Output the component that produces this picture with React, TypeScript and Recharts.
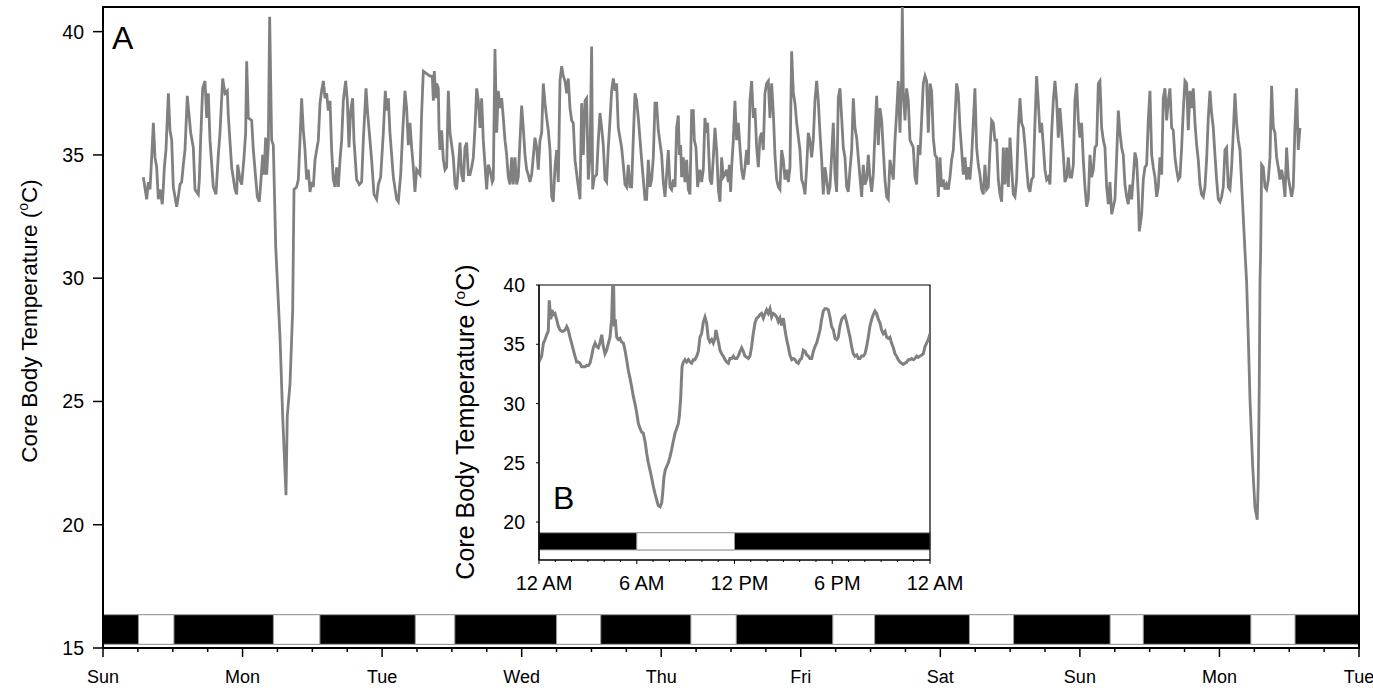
import { Line, LineChart, ReferenceArea, XAxis, YAxis } from "recharts";

const FONT = '"Liberation Sans", Arial, Helvetica, sans-serif';
const LINE_GREY = "#808080";

// panel A: hours since Sunday 00:00, core body temperature (°C)
const mainHours = [
  6.94, 7.51, 7.8, 8.08, 8.37, 8.66, 8.94, 9.23, 9.52, 9.8, 10.2, 10.38, 10.55, 10.83, 11.24, 11.52, 11.81,
  12.09, 12.38, 12.67, 12.95, 13.24, 13.53, 13.81, 14.1, 14.5, 14.73, 15.08, 15.53, 15.82, 16.39, 16.57, 16.79,
  17.14, 17.54, 17.83, 18.11, 18.4, 18.97, 19.43, 19.83, 20.12, 20.58, 20.98, 21.38, 21.55, 22.13, 22.7, 22.99,
  23.16, 23.56, 23.85, 24.25, 24.53, 24.71, 24.99, 25.57, 25.85, 26.54, 26.88, 27.17, 27.46, 27.69, 27.97, 28.14,
  28.43, 28.66, 29.0, 29.29, 29.7, 30.44, 30.9, 31.47, 31.69, 32.16, 32.62, 32.73, 32.85, 33.3, 33.59, 33.88,
  34.16, 34.45, 34.74, 35.02, 35.31, 35.6, 35.88, 36.17, 36.46, 37.03, 37.32, 37.6, 37.89, 38.18, 38.46, 38.75,
  39.04, 39.32, 39.61, 39.9, 40.18, 40.47, 40.76, 41.04, 41.33, 41.73, 42.02, 42.3, 42.59, 42.93, 43.16, 43.62,
  44.08, 44.48, 44.77, 45.23, 45.51, 45.8, 46.2, 46.6, 47.06, 47.35, 47.75, 48.21, 48.55, 48.78, 49.07, 49.35,
  49.93, 50.5, 50.79, 51.19, 51.53, 51.93, 52.22, 52.51, 52.79, 53.08, 53.37, 53.65, 53.94, 54.51, 54.8, 55.09,
  56.23, 56.63, 56.81, 56.98, 57.21, 57.38, 57.67, 57.78, 57.95, 58.24, 58.53, 58.81, 59.1, 59.39, 59.67, 59.96,
  60.25, 60.53, 60.82, 61.11, 61.39, 61.68, 61.97, 62.25, 62.54, 62.83, 63.11, 63.4, 63.69, 63.97, 64.26, 64.55,
  64.83, 65.12, 65.4, 65.69, 65.98, 66.26, 66.55, 66.95, 67.12, 67.41, 67.7, 67.98, 68.27, 68.56, 68.84, 69.13,
  69.42, 69.7, 69.99, 70.28, 70.56, 70.85, 71.14, 71.42, 71.71, 72.0, 72.28, 72.57, 72.86, 73.14, 73.43, 73.72,
  74.29, 74.58, 74.86, 75.15, 75.44, 75.72, 76.01, 76.3, 76.58, 76.87, 77.16, 77.44, 77.73, 78.02, 78.3, 78.59,
  78.88, 79.16, 79.45, 79.74, 80.02, 80.31, 80.6, 80.88, 81.17, 81.74, 82.03, 82.31, 82.6, 82.89, 83.17, 83.46,
  83.75, 84.03, 84.21, 84.49, 84.89, 85.18, 85.47, 85.75, 86.04, 86.33, 86.61, 86.9, 87.19, 87.47, 87.76, 88.05,
  88.33, 88.62, 89.19, 89.48, 89.77, 90.05, 90.34, 90.63, 90.91, 91.2, 91.49, 91.77, 92.06, 92.63, 92.92, 93.21,
  93.49, 93.78, 94.07, 94.35, 94.64, 94.93, 95.21, 95.5, 96.07, 96.36, 96.65, 96.93, 97.22, 97.51, 97.79, 98.08,
  98.37, 98.65, 98.94, 99.11, 99.34, 99.51, 99.8, 100.08, 100.37, 100.66, 100.94, 101.23, 101.52, 101.69, 101.98,
  102.26, 102.66, 102.95, 103.24, 103.52, 103.81, 103.98, 104.21, 104.38, 104.67, 104.96, 105.24, 105.53, 105.82,
  106.1, 106.39, 106.68, 106.96, 107.25, 107.54, 107.71, 107.94, 108.11, 108.4, 108.68, 108.97, 109.26, 109.54,
  109.83, 110.12, 110.4, 110.69, 110.98, 111.26, 111.55, 111.84, 112.12, 112.41, 112.7, 112.98, 113.27, 113.56,
  113.84, 114.13, 114.42, 114.7, 114.99, 115.28, 115.56, 115.85, 116.14, 116.42, 116.71, 117.0, 117.28, 117.57,
  117.86, 118.14, 118.43, 118.72, 119.0, 119.29, 119.86, 120.15, 120.43, 120.72, 121.01, 121.29, 121.58, 121.87,
  122.15, 122.44, 122.73, 123.01, 123.3, 123.59, 123.87, 124.16, 124.45, 124.73, 125.02, 125.31, 125.59, 125.88,
  126.17, 126.45, 126.74, 127.03, 127.31, 127.6, 127.89, 128.17, 128.46, 128.75, 129.03, 129.32, 129.61, 129.89,
  130.18, 130.47, 130.75, 131.04, 131.33, 131.61, 131.9, 132.19, 132.47, 132.76, 133.05, 133.33, 133.62, 133.91,
  134.19, 134.48, 134.76, 135.05, 135.34, 135.62, 135.91, 136.2, 136.48, 136.77, 137.06, 137.34, 137.46, 137.63,
  137.92, 138.2, 138.49, 138.78, 139.35, 139.64, 139.92, 140.21, 140.5, 140.78, 141.07, 141.36, 141.64, 141.93,
  142.22, 142.5, 142.79, 143.08, 143.36, 143.65, 143.94, 144.22, 144.51, 144.8, 145.08, 145.37, 145.66, 145.94,
  146.23, 146.52, 146.8, 147.09, 147.38, 147.66, 147.95, 148.24, 148.52, 148.81, 149.09, 149.38, 149.67, 149.95,
  150.24, 150.53, 150.81, 151.1, 151.39, 151.67, 151.96, 152.25, 152.53, 152.82, 153.11, 153.39, 153.68, 153.97,
  154.26, 154.54, 154.83, 155.12, 155.4, 155.69, 155.98, 156.26, 156.55, 156.84, 157.12, 157.41, 157.69, 157.98,
  158.27, 158.55, 158.84, 159.13, 159.41, 159.7, 159.99, 160.27, 160.56, 160.85, 161.13, 161.42, 161.71, 161.99,
  162.28, 162.57, 162.85, 163.14, 163.43, 163.71, 164.0, 164.29, 164.57, 164.86, 165.15, 165.43, 165.72, 166.01,
  166.29, 166.58, 166.87, 167.15, 167.44, 167.73, 168.01, 168.3, 168.59, 168.87, 169.16, 169.45, 169.73, 170.02,
  170.31, 170.59, 170.88, 171.17, 171.45, 171.74, 172.03, 172.31, 172.6, 172.89, 173.17, 173.46, 173.75, 174.03,
  174.32, 174.61, 174.89, 175.18, 175.46, 175.75, 176.04, 176.32, 176.61, 176.9, 177.18, 177.47, 177.76, 178.04,
  178.22, 178.45, 178.62, 178.9, 179.19, 179.48, 179.76, 180.05, 180.34, 180.62, 180.91, 181.2, 181.48, 181.77,
  182.06, 182.34, 182.63, 182.92, 183.2, 183.49, 183.78, 184.06, 184.35, 184.64, 184.92, 185.21, 185.5, 185.78,
  186.07, 186.36, 186.64, 186.93, 187.22, 187.5, 187.79, 188.08, 188.36, 188.65, 188.93, 189.22, 189.51, 189.79,
  190.08, 190.37, 190.65, 190.94, 191.23, 191.51, 191.8, 192.09, 192.37, 192.66, 192.95, 193.23, 193.52, 193.81,
  194.09, 194.38, 194.67, 194.95, 195.24, 195.53, 196.39, 196.68, 196.96, 197.25, 197.71, 198.11, 198.5, 198.67,
  198.85, 198.97, 199.09, 199.25, 199.54, 199.83, 200.11, 200.4, 200.69, 200.97, 201.26, 201.55, 201.83, 202.12,
  202.41, 202.69, 202.98, 203.27, 203.55, 203.84, 204.13, 204.41, 204.7, 204.98, 205.27, 205.56, 205.84,
];

const mainTemps = [
  34.1, 33.2, 33.9, 33.6, 34.9, 36.3, 34.9, 34.5, 33.2, 33.6, 33.0, 33.7, 34.5, 35.2, 37.5, 36.0, 35.6,
  33.7, 33.3, 32.9, 33.3, 33.8, 33.9, 34.6, 35.2, 37.4, 36.8, 35.9, 35.3, 33.6, 33.4, 34.0, 35.6,
  37.7, 38.0, 36.5, 37.5, 35.6, 33.7, 33.4, 35.0, 35.9, 38.1, 37.5, 37.6, 36.6, 34.5, 33.6, 33.4,
  34.6, 34.0, 33.8, 34.9, 35.9, 38.8, 36.5, 36.4, 35.2, 33.3, 33.1, 34.0, 35.0, 34.2, 35.7, 34.2,
  35.4, 40.6, 35.6, 35.4, 31.3, 27.6, 24.4, 21.2, 24.4, 25.7, 28.7, 31.1, 33.6, 33.7, 34.0, 35.6,
  37.3, 36.0, 35.2, 34.0, 34.4, 33.5, 33.9, 33.7, 34.8, 35.6, 37.1, 37.6, 38.0, 37.3, 37.5, 36.8,
  37.2, 35.2, 34.0, 33.7, 34.5, 33.7, 34.8, 35.6, 37.2, 38.0, 37.2, 35.3, 36.8, 37.3, 35.6, 34.0,
  33.8, 33.9, 35.6, 37.7, 36.7, 35.9, 34.8, 33.4, 33.2, 33.8, 34.1, 35.9, 37.6, 36.8, 37.3, 35.9,
  34.1, 33.2, 33.1, 34.2, 35.9, 37.6, 36.9, 35.4, 36.3, 35.3, 34.5, 33.5, 34.4, 34.2, 36.7, 38.4,
  38.2, 38.2, 37.2, 38.4, 37.3, 37.9, 37.7, 36.1, 35.2, 36.0, 34.8, 34.4, 34.5, 37.6, 35.9, 35.4,
  34.9, 33.8, 33.6, 34.5, 35.5, 34.2, 33.9, 35.3, 35.5, 34.2, 34.2, 34.5, 34.9, 36.1, 37.7, 37.2,
  36.1, 37.3, 35.6, 34.6, 33.6, 34.6, 34.4, 33.9, 34.0, 39.3, 35.9, 37.6, 36.9, 37.3, 36.5, 35.6,
  35.0, 34.1, 33.8, 34.9, 33.8, 34.9, 33.8, 34.1, 35.6, 37.0, 36.1, 35.0, 34.4, 34.2, 33.9, 34.2,
  35.7, 35.3, 34.4, 35.6, 35.9, 37.9, 37.1, 36.5, 36.0, 35.2, 33.3, 33.1, 34.5, 35.2, 33.9, 38.0,
  38.6, 38.2, 38.0, 37.5, 38.1, 36.9, 36.4, 36.3, 34.8, 33.7, 33.2, 37.1, 35.0, 37.2, 37.3, 34.0,
  34.9, 39.4, 33.6, 34.1, 34.2, 35.6, 36.7, 36.1, 35.4, 34.0, 33.9, 35.3, 36.4, 37.6, 38.1, 37.6,
  37.9, 36.1, 35.3, 34.6, 33.8, 33.7, 34.6, 33.7, 33.7, 35.7, 37.5, 37.2, 36.5, 34.8, 34.0, 33.2,
  33.2, 34.8, 33.7, 34.0, 34.9, 37.1, 37.1, 36.0, 35.0, 33.9, 33.3, 34.2, 35.2, 33.7, 33.6, 34.0,
  33.7, 36.1, 36.6, 35.0, 35.4, 34.1, 34.9, 33.9, 34.8, 33.6, 33.4, 36.8, 36.8, 35.6, 35.3,
  33.7, 34.4, 33.9, 34.4, 36.5, 35.9, 36.3, 34.9, 34.0, 33.8, 34.9, 36.1, 35.2, 33.6,
  33.1, 34.9, 34.1, 34.2, 34.4, 33.9, 34.6, 33.5, 34.5, 35.6, 37.2, 35.6, 36.3, 35.3,
  34.4, 34.0, 34.5, 35.2, 34.6, 37.2, 38.0, 36.5, 36.9, 35.3, 34.5, 35.7, 35.9, 35.2,
  37.5, 37.9, 38.0, 36.5, 37.9, 36.7, 35.0, 34.0, 33.7, 33.6, 35.2, 34.8, 34.0, 34.4,
  33.9, 34.5, 39.2, 37.5, 37.1, 36.3, 35.2, 34.0, 33.8, 33.4, 34.5, 35.9, 35.6, 34.9,
  35.6, 37.2, 38.0, 37.2, 35.9, 34.8, 33.4, 34.5, 34.0, 33.4, 33.7, 35.0, 36.3, 34.2,
  33.5, 37.3, 37.7, 36.5, 35.3, 34.9, 33.7, 33.5, 34.4, 35.2, 37.3, 36.1, 35.7, 34.9,
  34.1, 33.3, 34.6, 33.8, 34.0, 35.0, 34.1, 33.5, 34.2, 35.9, 37.4, 35.4, 36.9, 36.4,
  35.2, 34.0, 33.3, 33.2, 34.8, 34.4, 34.0, 35.6, 36.7, 38.0, 35.9, 38.0, 41.0, 37.6,
  36.4, 37.7, 37.2, 35.6, 35.3, 34.1, 33.8, 35.4, 35.0, 36.4, 37.9, 38.2, 38.0, 35.9,
  37.9, 37.6, 35.7, 35.0, 34.9, 33.3, 34.9, 33.7, 34.0, 33.6, 33.8, 33.6, 34.1, 34.8,
  35.2, 36.5, 37.9, 37.5, 36.1, 35.2, 34.2, 34.9, 34.0, 34.5, 34.0, 34.9, 36.3, 37.7,
  35.3, 34.6, 34.2, 33.6, 33.4, 34.6, 33.6, 33.7, 35.2, 36.4, 36.3, 35.6, 35.6, 34.0,
  33.4, 33.1, 35.3, 33.8, 35.3, 33.7, 35.7, 34.5, 33.4, 33.3, 34.0, 36.1, 37.3, 36.3,
  36.1, 35.4, 34.5, 33.7, 33.5, 34.0, 34.1, 36.3, 38.2, 37.1, 35.9, 36.3, 35.4, 34.4,
  34.0, 34.1, 33.8, 35.9, 37.2, 38.0, 37.2, 35.7, 36.9, 36.0, 35.0, 33.9, 34.1, 34.9,
  34.1, 34.1, 34.6, 37.2, 37.9, 36.4, 35.7, 36.3, 34.8, 33.7, 32.9, 33.2, 35.0, 34.1,
  34.4, 35.3, 35.4, 37.9, 38.0, 36.1, 35.6, 35.3, 33.7, 33.0, 33.9, 32.6, 32.9, 33.2,
  34.9, 36.8, 35.9, 35.3, 35.0, 33.8, 33.3, 33.0, 33.8, 33.2, 34.1, 35.1, 34.8, 33.4,
  31.9, 32.3, 32.6, 34.0, 34.5, 34.6, 36.4, 37.6, 35.0, 34.5, 34.1, 33.3, 33.7, 34.9,
  34.2, 37.3, 37.7, 36.4, 37.2, 37.7, 36.1, 36.0, 34.9, 34.4, 34.0, 34.1, 35.3, 36.8,
  38.0, 37.9, 36.0, 37.6, 36.9, 37.7, 36.3, 35.4, 34.8, 33.8, 33.4, 33.3, 33.7, 34.8,
  36.5, 37.6, 36.7, 36.1, 35.0, 34.0, 33.2, 33.1, 33.3, 33.7, 35.2, 35.3, 33.7, 33.6,
  34.5, 35.9, 37.5, 36.3, 35.6, 35.2, 31.1, 29.8, 27.6, 25.1, 22.4, 20.7, 20.2, 21.7,
  25.7, 29.8, 31.1, 34.6, 34.5, 33.7, 33.6, 34.0, 34.9, 37.8, 36.1, 35.9, 34.9, 34.5,
  34.0, 34.4, 34.0, 33.3, 35.3, 34.1, 33.7, 33.3, 33.7, 36.1, 37.7, 35.2, 36.1,
];

// panel B: hours since Monday 00:00
const insetHours = [
  0.02, 0.06, 0.16, 0.27, 0.37, 0.47, 0.57, 0.63, 0.72, 0.8, 0.88, 0.98, 1.08, 1.19, 1.29, 1.39, 1.49, 1.6,
  1.7, 1.8, 1.9, 2.0, 2.11, 2.21, 2.31, 2.41, 2.52, 2.62, 2.72, 2.82, 2.93, 3.03, 3.13, 3.23, 3.33, 3.44,
  3.54, 3.64, 3.74, 3.85, 3.95, 4.05, 4.15, 4.26, 4.36, 4.46, 4.52, 4.58, 4.62, 4.68, 4.77, 4.87, 4.97, 5.07,
  5.18, 5.28, 5.38, 5.48, 5.59, 5.69, 5.79, 5.89, 6.0, 6.1, 6.2, 6.3, 6.4, 6.51, 6.61, 6.71, 6.81, 6.92,
  7.02, 7.12, 7.22, 7.32, 7.43, 7.53, 7.59, 7.67, 7.75, 7.84, 7.94, 8.04, 8.14, 8.24, 8.35, 8.45, 8.55, 8.61,
  8.69, 8.78, 8.86, 8.96, 9.06, 9.17, 9.27, 9.37, 9.47, 9.57, 9.68, 9.78, 9.88, 9.98, 10.09, 10.19, 10.29,
  10.39, 10.49, 10.6, 10.7, 10.8, 10.86, 10.95, 11.03, 11.11, 11.21, 11.31, 11.42, 11.52, 11.62, 11.72, 11.83,
  11.93, 12.03, 12.13, 12.23, 12.34, 12.44, 12.54, 12.64, 12.75, 12.85, 12.95, 13.05, 13.15, 13.26, 13.36,
  13.46, 13.56, 13.66, 13.77, 13.87, 13.97, 14.07, 14.18, 14.28, 14.38, 14.48, 14.59, 14.69, 14.79, 14.89,
  15.0, 15.1, 15.2, 15.3, 15.4, 15.51, 15.61, 15.71, 15.81, 15.92, 16.02, 16.12, 16.22, 16.33, 16.43, 16.53,
  16.63, 16.74, 16.84, 16.94, 17.04, 17.14, 17.25, 17.35, 17.45, 17.55, 17.66, 17.76, 17.86, 17.96, 18.07,
  18.17, 18.27, 18.37, 18.47, 18.58, 18.68, 18.78, 18.88, 18.99, 19.09, 19.19, 19.29, 19.39, 19.5, 19.6,
  19.7, 19.8, 19.91, 20.01, 20.11, 20.21, 20.31, 20.42, 20.52, 20.62, 20.72, 20.83, 20.93, 21.03, 21.13,
  21.24, 21.34, 21.44, 21.54, 21.64, 21.75, 21.85, 21.95, 22.05, 22.16, 22.26, 22.36, 22.46, 22.57, 22.67,
  22.77, 22.87, 22.98, 23.08, 23.18, 23.28, 23.38, 23.49, 23.59, 23.69, 23.79, 23.9, 24.0,
];

const insetTemps = [
  34.0, 33.7, 34.0, 35.1, 35.4, 35.8, 36.1, 38.7, 37.1, 37.9, 37.5, 37.6, 37.1, 36.5, 36.2, 36.1, 36.1, 36.2,
  36.5, 36.2, 35.6, 35.1, 34.5, 34.0, 33.5, 33.5, 33.4, 33.1, 33.1, 33.1, 33.2, 33.2, 33.4, 34.0, 34.7, 35.1,
  34.8, 34.7, 35.1, 35.8, 34.8, 34.2, 34.5, 35.1, 35.6, 37.1, 40.0, 40.0, 36.5, 37.1, 35.6, 35.4, 35.5, 35.2,
  35.1, 34.5, 33.7, 32.8, 32.1, 31.4, 30.6, 30.0, 29.2, 28.3, 27.9, 27.6, 27.5, 26.8, 25.8, 25.0, 24.4, 23.7,
  23.0, 22.4, 21.9, 21.4, 21.3, 21.6, 22.4, 23.8, 24.4, 24.7, 25.0, 25.5, 26.1, 26.8, 27.5, 27.9, 28.3, 28.9,
  30.3, 33.1, 33.5, 33.7, 33.5, 33.7, 33.5, 33.4, 33.7, 33.7, 34.0, 34.4, 35.6, 35.9, 36.9, 37.3, 36.8,
  35.5, 35.2, 35.4, 35.1, 35.5, 36.2, 35.6, 35.1, 34.5, 34.2, 34.0, 33.7, 33.5, 33.4, 33.8, 33.8,
  34.0, 33.8, 33.8, 34.0, 34.4, 34.7, 34.4, 34.0, 33.9, 33.8, 34.0, 34.8, 35.9, 36.8, 37.2,
  37.3, 37.5, 37.6, 37.2, 37.6, 37.9, 37.6, 38.0, 37.3, 37.6, 37.5, 37.3, 36.9, 37.2, 36.6,
  37.2, 36.2, 35.4, 34.8, 34.1, 33.7, 33.8, 33.7, 33.5, 33.4, 33.7, 33.8, 34.5, 34.4, 34.1, 34.0,
  33.8, 33.8, 34.4, 34.8, 35.1, 35.6, 36.2, 37.1, 37.8, 38.0, 38.0, 37.9, 37.3, 36.5, 36.2,
  35.5, 35.4, 35.6, 36.5, 37.1, 37.3, 37.4, 36.9, 36.2, 35.6, 34.8, 34.2, 34.0, 34.1, 33.8,
  33.8, 34.0, 34.0, 34.2, 34.8, 35.6, 36.5, 37.1, 37.5, 37.8, 37.6, 37.1, 36.8, 36.2, 35.9,
  36.1, 35.6, 35.5, 35.6, 35.1, 34.7, 34.2, 34.0, 33.7, 33.5, 33.4, 33.3, 33.4, 33.5, 33.7,
  33.7, 33.8, 33.7, 33.8, 34.0, 33.9, 34.0, 34.1, 34.2, 34.8, 35.1, 35.4, 35.9,
];

const mainYTicks = [15, 20, 25, 30, 35, 40];
const mainXTicks = [
  0, 6, 12, 18, 24, 30, 36, 42, 48, 54, 60, 66, 72, 78, 84, 90, 96, 102, 108, 114, 120, 126, 132, 138, 144,
  150, 156, 162, 168, 174, 180, 186, 192, 198, 204, 210, 216,
];
const dayLabels = ["Sun", "Mon", "Tue", "Wed", "Thu", "Fri", "Sat", "Sun", "Mon", "Tue"];

// light phases (hours) on the light/dark bar of panel A
const lightOn = [6.1, 29.3, 53.7, 78.0, 101.1, 125.5, 149.0, 173.2, 197.4];
const lightOff = [12.2, 37.3, 60.5, 85.6, 108.9, 132.7, 156.6, 178.9, 205.0];

const insetYTicks = [20, 25, 30, 35, 40];
const insetXTicks = [0, 1, 2, 3, 4, 5, 6, 7, 8, 9, 10, 11, 12, 13, 14, 15, 16, 17, 18, 19, 20, 21, 22, 23, 24];
const insetXLabels: Record<number, string> = { 0: "12 AM", 6: "6 AM", 12: "12 PM", 18: "6 PM", 24: "12 AM" };
const insetLightOn = [6];
const insetLightOff = [12];

const mainData = mainHours.map((h, i) => ({ h, t: mainTemps[i] }));
const insetData = insetHours.map((h, i) => ({ h, t: insetTemps[i] }));

// y axis lines sit at the plot's left edge
const MAIN_AXIS_X = 103;
const INSET_AXIS_X = 99;

function DayTick(props: any) {
  const { x, y, payload } = props;
  const v = payload.value;
  const major = v % 24 === 0;
  return (
    <g>
      <line x1={x} x2={x} y1={y} y2={y + (major ? 9 : 4)} stroke="#000" strokeWidth={1.5} />
      {major && (
        <text x={x} y={y + 35} textAnchor="middle" fontSize={18} fontFamily={FONT} fill="#000">
          {dayLabels[v / 24]}
        </text>
      )}
    </g>
  );
}

function MainTempTick(props: any) {
  const { y, payload } = props;
  const x = MAIN_AXIS_X;
  return (
    <g>
      <line x1={x} x2={x - 10} y1={y} y2={y} stroke="#000" strokeWidth={1.5} />
      <text x={x - 19} y={y} dy="0.36em" textAnchor="end" fontSize={19.5} fontFamily={FONT} fill="#000">
        {payload.value}
      </text>
    </g>
  );
}

function HourTick(props: any) {
  const { x, y, payload } = props;
  const v = payload.value;
  const label = insetXLabels[v];
  return (
    <g>
      <line x1={x} x2={x} y1={y} y2={y + (label ? 4 : 2)} stroke="#000" strokeWidth={1} />
      {label && (
        <text x={x + 5} y={y + 30} textAnchor="middle" fontSize={20} fontFamily={FONT} fill="#000">
          {label}
        </text>
      )}
    </g>
  );
}

function InsetTempTick(props: any) {
  const { y, payload } = props;
  const x = INSET_AXIS_X;
  return (
    <g>
      <line x1={x} x2={x - 3} y1={y} y2={y} stroke="#000" strokeWidth={1} />
      <text x={x - 14} y={y} dy="0.36em" textAnchor="end" fontSize={19.5} fontFamily={FONT} fill="#000">
        {payload.value}
      </text>
    </g>
  );
}

function TempLabel({ x, y, size }: { x: number; y: number; size: number }) {
  return (
    <text
      transform={`translate(${x},${y}) rotate(-90)`}
      textAnchor="middle"
      fontSize={size}
      fontFamily={FONT}
      fill="#000"
    >
      <tspan>Core Body Temperature (</tspan>
      <tspan dy={-size * 0.38} fontSize={size * 0.62}>o</tspan>
      <tspan dy={size * 0.38}>C)</tspan>
    </text>
  );
}

function MainYLabel() {
  return <TempLabel x={37} y={321} size={22.5} />;
}

function InsetYLabel() {
  return <TempLabel x={34} y={162} size={25} />;
}

function InsetChart() {
  return (
    <LineChart width={560} height={340} data={insetData} margin={{ top: 25, right: 70, bottom: 0, left: 0 }}>
      <XAxis
        type="number"
        dataKey="h"
        domain={[0, 24]}
        ticks={insetXTicks}
        interval={0}
        height={40}
        tickSize={0}
        tickMargin={0}
        tickLine={false}
        axisLine={{ stroke: "#000", strokeWidth: 1.2 }}
        tick={<HourTick />}
        allowDataOverflow
      />
      <YAxis
        type="number"
        domain={[16.8, 40]}
        ticks={insetYTicks}
        interval={0}
        width={99}
        tickSize={0}
        tickMargin={0}
        tickLine={false}
        axisLine={{ stroke: "#000", strokeWidth: 1.2 }}
        tick={<InsetTempTick />}
        allowDataOverflow
        label={<InsetYLabel />}
      />
      <ReferenceArea x1={0} x2={24} y1={17.65} y2={19.1} fill="#000" fillOpacity={1} stroke="#999" strokeWidth={1} />
      {insetLightOn.map((s, i) => (
        <ReferenceArea key={"il" + i} x1={s} x2={insetLightOff[i]} y1={17.65} y2={19.1} fill="#fff" fillOpacity={1} stroke="#999" strokeWidth={1} />
      ))}
      <ReferenceArea x1={0} x2={24} y1={16.8} y2={40} fill="none" stroke="#000" strokeWidth={1.2} />
      <Line
        type="linear"
        dataKey="t"
        stroke={LINE_GREY}
        strokeWidth={3}
        dot={false}
        activeDot={false}
        isAnimationActive={false}
      />
    </LineChart>
  );
}

export default function App() {
  return (
    <div style={{ position: "absolute", left: 0, top: 0, width: 1373, height: 692, background: "#fff" }}>
      <LineChart width={1373} height={692} data={mainData} margin={{ top: 7, right: 14, bottom: 0, left: 0 }}>
        <XAxis
          type="number"
          dataKey="h"
          domain={[0, 216]}
          ticks={mainXTicks}
          interval={0}
          height={44}
          tickSize={0}
          tickMargin={0}
          tickLine={false}
          axisLine={{ stroke: "#000", strokeWidth: 2 }}
          tick={<DayTick />}
          allowDataOverflow
        />
        <YAxis
          type="number"
          domain={[15, 41]}
          ticks={mainYTicks}
          interval={0}
          width={103}
          tickSize={0}
          tickMargin={0}
          tickLine={false}
          axisLine={{ stroke: "#000", strokeWidth: 2 }}
          tick={<MainTempTick />}
          allowDataOverflow
          label={<MainYLabel />}
        />
        <ReferenceArea x1={0} x2={216} y1={15.15} y2={16.35} fill="#000" fillOpacity={1} stroke="#999" strokeWidth={1} />
        {lightOn.map((s, i) => (
          <ReferenceArea key={"l" + i} x1={s} x2={lightOff[i]} y1={15.15} y2={16.35} fill="#fff" fillOpacity={1} stroke="#999" strokeWidth={1} />
        ))}
        <ReferenceArea x1={0} x2={216} y1={15} y2={41} fill="none" stroke="#000" strokeWidth={2} />
        <Line
          type="linear"
          dataKey="t"
          stroke={LINE_GREY}
          strokeWidth={2.8}
          dot={false}
          activeDot={false}
          isAnimationActive={false}
        />
      </LineChart>
      <div style={{ position: "absolute", left: 440, top: 260 }}>
        <InsetChart />
      </div>
      <svg width={1373} height={692} style={{ position: "absolute", left: 0, top: 0, pointerEvents: "none" }}>
        <text x={112} y={49} fontSize={32} fontFamily={FONT} fill="#000">A</text>
        <text x={553} y={509} fontSize={32} fontFamily={FONT} fill="#000">B</text>
      </svg>
    </div>
  );
}
